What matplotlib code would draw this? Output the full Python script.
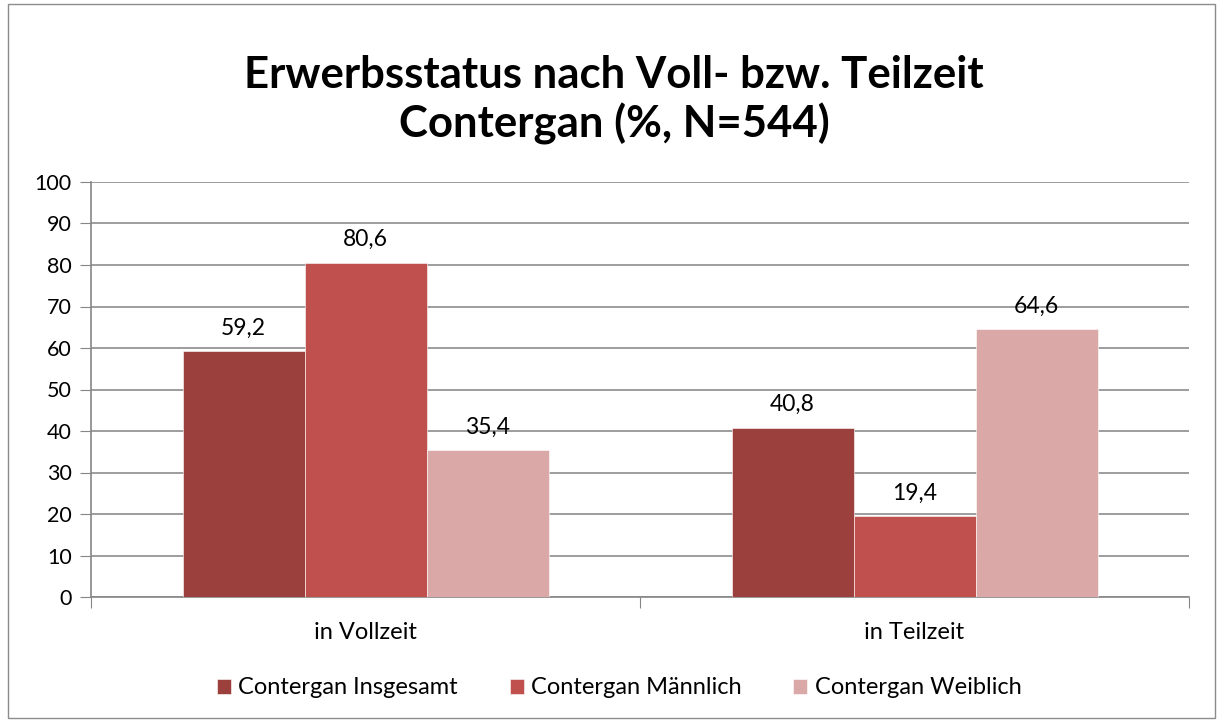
import matplotlib
matplotlib.use("Agg")
import matplotlib.pyplot as plt
import numpy as np
from matplotlib.patches import Rectangle

plt.rcParams['font.family'] = ['Lato', 'DejaVu Sans']

categories = ["in Vollzeit", "in Teilzeit"]
series_names = ["Contergan Insgesamt", "Contergan Männlich", "Contergan Weiblich"]
values = {
    "Contergan Insgesamt": [59.2, 40.8],
    "Contergan Männlich": [80.6, 19.4],
    "Contergan Weiblich": [35.4, 64.6],
}
colors = ["#9C403E", "#C0504D", "#D9A8A7"]
title = "Erwerbsstatus nach Voll- bzw. Teilzeit\nContergan (%, N=544)"

W, H = 1221, 722
fig = plt.figure(figsize=(W / 100, H / 100), dpi=100)
fig.patches.append(Rectangle((8 / W, 4 / H), (W - 14) / W, (H - 8) / H,
                             transform=fig.transFigure, fill=False,
                             edgecolor="#8C8C8C", linewidth=1.0))

ax = fig.add_axes([91 / W, 1 - 597 / H, (1189 - 91) / W, (597 - 182) / H])
x = np.arange(len(categories))
bw = 1 / 4.5
for i, (name, c) in enumerate(zip(series_names, colors)):
    vals = values[name]
    bars = ax.bar(x + (i - 1) * bw, vals, width=bw, color=c, label=name,
                  zorder=3, edgecolor="white", linewidth=0.4)
    for b, v in zip(bars, vals):
        ax.text(b.get_x() + b.get_width() / 2, v + 3, f"{v:.1f}".replace(".", ","),
                ha="center", va="bottom", fontsize=16.5, color="black")

ax.set_xlim(-0.5, 1.5)
ax.set_ylim(0, 100)
ax.set_yticks(range(0, 101, 10))
ax.set_xticks([-0.5, 0.5, 1.5], minor=False)
ax.set_xticklabels([])
ax.set_xticks(x, minor=True)
ax.set_xticklabels(categories, minor=True, fontsize=17)
ax.tick_params(axis="x", which="minor", length=0, pad=18)
ax.tick_params(axis="x", which="major", length=8, color="#868686", direction="out")
ax.tick_params(axis="y", length=8, color="#868686", direction="out", labelsize=15.5, pad=6)
ax.grid(axis="y", color="#8C8C8C", linewidth=1.2, zorder=0)
for s in ["top", "right"]:
    ax.spines[s].set_visible(False)
for s in ["left", "bottom"]:
    ax.spines[s].set_color("#868686")
    ax.spines[s].set_linewidth(1.2)

fig.text(614 / W, 1 - 100 / H, title, ha="center", va="center",
         fontsize=31.5, fontweight="bold", linespacing=1.2)

fig.legend(loc="center", bbox_to_anchor=(619 / W, 1 - 688 / H), ncol=3,
           frameon=False, fontsize=17, handlelength=0.6, handleheight=0.6,
           handletextpad=0.3, columnspacing=2.2)

fig.savefig("out.png", dpi=100)
